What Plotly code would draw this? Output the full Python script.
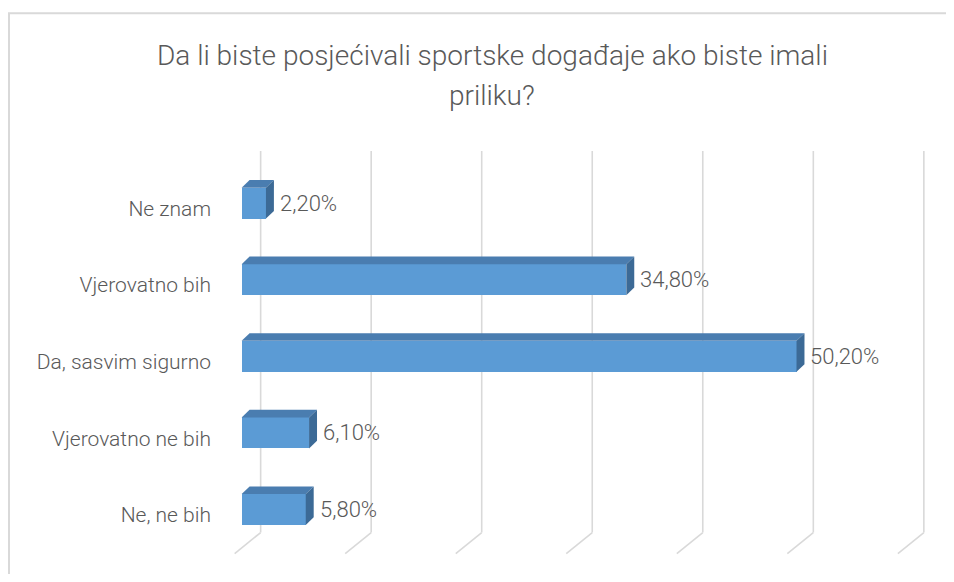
import plotly.graph_objects as go

# ---- data ----
categories = ["Ne, ne bih", "Vjerovatno ne bih", "Da, sasvim sigurno", "Vjerovatno bih", "Ne znam"]
values = [5.8, 6.1, 50.2, 34.8, 2.2]
grid_ticks = [0, 10, 20, 30, 40, 50, 60]
title_lines = ["Da li biste posjećivali sportske događaje ako biste imali", "priliku?"]

# ---- style / geometry ----
OFF = 8                  # page body margin
W, H = 954 - OFF, 582 - 2 * OFF
L, R, T = 206, 16, 130
PLOT_W = W - L - R
X_RANGE = [-2.5, 63]
Y_RANGE = [-0.75, 4.85]
PLOT_H = PLOT_W / (X_RANGE[1] - X_RANGE[0]) * 0 + 429.5
B = H - T - PLOT_H

FONT = "Roboto"
TXT = "#595959"
FRONT = "#5B9BD5"
TOP = "#4a7db0"
SIDE = "#3c6a96"
GRID = "#d9d9d9"

BAR_H = 0.404
DX, DY = 0.72, 0.10
BACK_DX = 1.72
FLOOR_DX, FLOOR_DY = -2.35, -0.274
GRID_TOP, GRID_BOT = 4.68, -0.30


def px_x(ref_px):
    return (ref_px - OFF - L) / PLOT_W


def px_y(ref_py):
    return (T + PLOT_H - (ref_py - OFF)) / PLOT_H


fig = go.Figure()

# gridlines (back wall + floor) as shapes below the bars
for g in grid_ticks:
    xb = g + BACK_DX
    fig.add_shape(type="line", xref="x", yref="y", x0=xb, x1=xb, y0=GRID_TOP, y1=GRID_BOT,
                  line=dict(color=GRID, width=1.6), layer="below")
    fig.add_shape(type="line", xref="x", yref="y", x0=xb, x1=xb + FLOOR_DX,
                  y0=GRID_BOT, y1=GRID_BOT + FLOOR_DY,
                  line=dict(color=GRID, width=1.6), layer="below")

ypos = list(range(len(categories)))

# front faces
fig.add_trace(go.Bar(
    x=values, y=ypos, orientation="h", width=BAR_H, base=0,
    marker=dict(color=FRONT, line=dict(width=0)), showlegend=False, hoverinfo="skip"))

# top and side faces
for v, c in zip(values, ypos):
    t, b = c + BAR_H / 2, c - BAR_H / 2
    fig.add_trace(go.Scatter(
        x=[0, v, v + DX, DX, 0], y=[t, t, t + DY, t + DY, t],
        fill="toself", fillcolor=TOP, mode="lines", line=dict(width=0, color=TOP),
        hoverinfo="skip", showlegend=False))
    fig.add_trace(go.Scatter(
        x=[v, v + DX, v + DX, v, v], y=[b, b + DY, t + DY, t, b],
        fill="toself", fillcolor=SIDE, mode="lines", line=dict(width=0, color=SIDE),
        hoverinfo="skip", showlegend=False))

# data labels
for v, c in zip(values, ypos):
    fig.add_annotation(
        x=v + DX, y=c, xref="x", yref="y", text=f"{v:.2f}".replace(".", ",") + "%",
        showarrow=False, xanchor="left", yanchor="middle", xshift=4,
        font=dict(family=FONT, size=22, color=TXT, weight=300))

# title
for line, ty in zip(title_lines, [55, 95]):
    fig.add_annotation(x=px_x(492), y=px_y(ty), xref="paper", yref="paper", text=line,
                       showarrow=False, xanchor="center", yanchor="middle",
                       font=dict(family=FONT, size=28, color=TXT, weight=300))

# chart border
fig.add_shape(type="rect", xref="paper", yref="paper",
              x0=px_x(9), x1=px_x(1000), y0=px_y(700), y1=px_y(13),
              line=dict(color="#d9d9d9", width=2), fillcolor="rgba(0,0,0,0)", layer="below")

fig.update_layout(
    width=W, height=H,
    margin=dict(l=L, r=R, t=T, b=B, pad=0),
    paper_bgcolor="white", plot_bgcolor="white",
    bargap=0,
    xaxis=dict(range=X_RANGE, showgrid=False, zeroline=False, showticklabels=False,
               showline=False, fixedrange=True),
    yaxis=dict(range=Y_RANGE, showgrid=False, zeroline=False, showline=False,
               tickmode="array", tickvals=[c - 0.07 for c in ypos], ticktext=categories,
               ticks="", ticklabelstandoff=2,
               tickfont=dict(family=FONT, size=21, color=TXT, weight=300)),
    font=dict(family=FONT, color=TXT),
)

fig.write_html("out.html")
